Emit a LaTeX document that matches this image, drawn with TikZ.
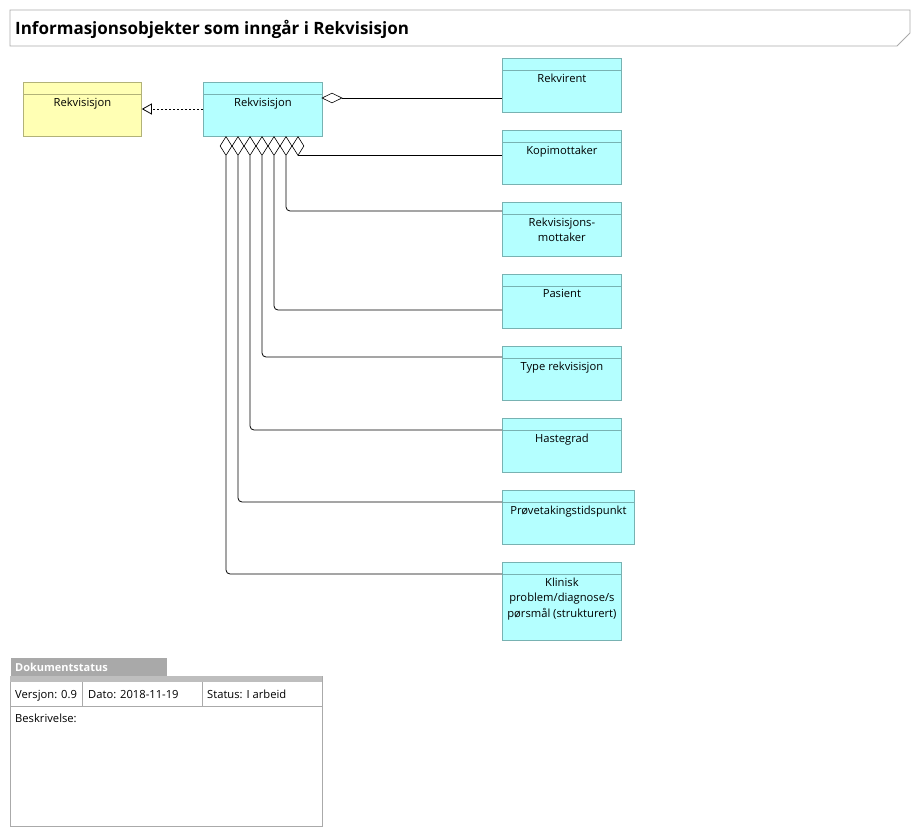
\documentclass[tikz,border=0pt]{standalone}
\usepackage{fontspec}
\setmainfont{Open Sans}
\usetikzlibrary{shapes.geometric,arrows.meta}
\definecolor{cyanfill}{RGB}{180,255,255}
\definecolor{cyanline}{RGB}{120,178,178}
\definecolor{yelfill}{RGB}{255,255,180}
\definecolor{yelline}{RGB}{178,178,120}
\definecolor{framegray}{RGB}{170,170,170}
\definecolor{tabgray}{RGB}{169,169,169}
\definecolor{bargray}{RGB}{190,190,190}
\tikzset{
  clsbox/.style={draw=cyanline, fill=cyanfill, line width=0.8pt, inner sep=0pt, anchor=north west},
  yelbox/.style={draw=yelline, fill=yelfill, line width=0.8pt, inner sep=0pt, anchor=north west},
  clsboxline/.style={draw=cyanline, line width=0.8pt},
  yelboxline/.style={draw=yelline, line width=0.8pt},
  clstext/.style={font=\fontsize{11.2}{15.5}\selectfont, align=center, inner sep=0pt, anchor=north},
  agg/.style={draw=black, fill=white, shape=diamond, inner sep=0pt, line width=0.6pt},
  conn/.style={draw=black, line width=0.8pt, rounded corners=4pt},
  frame/.style={draw=framegray, line width=0.8pt},
  celltext/.style={font=\fontsize{11.2}{14}\selectfont, inner sep=0pt, anchor=base west},
}
\newcommand{\umlclass}[7]{%
  \node[#1, minimum width=#5pt, minimum height=#6pt] (#2) at (#3,#4) {};
  \draw[#1line] ([yshift=-12pt]#2.north west) -- ([yshift=-12pt]#2.north east);
  \node[clstext] (#2-t) at ([yshift=-15.5pt]#2.north) {#7};
}
\begin{document}
\begin{tikzpicture}[x=1pt,y=-1pt]
\useasboundingbox (0,0) rectangle (921,837);
% title
\draw[frame] (10,10) -- (910,10) -- (910,33) -- (897,46) -- (10,46) -- cycle;
\node[font=\fontsize{17}{20}\selectfont\bfseries, anchor=west, inner sep=0pt] (title) at (15,29) {Informasjonsobjekter som inngår i Rekvisisjon};

% classes
\umlclass{yelbox}{base}{23}{82}{118}{54}{Rekvisisjon}
\umlclass{clsbox}{rekv}{203}{82}{119}{54}{Rekvisisjon}
\umlclass{clsbox}{rekvirent}{502}{58}{119}{54}{Rekvirent}
\umlclass{clsbox}{kopi}{502}{130}{119}{54}{Kopimottaker}
\umlclass{clsbox}{rmot}{502}{202}{119}{54}{Rekvisisjons-\\mottaker}
\umlclass{clsbox}{pas}{502}{274}{119}{54}{Pasient}
\umlclass{clsbox}{type}{502}{346}{119}{54}{Type rekvisisjon}
\umlclass{clsbox}{haste}{502}{418}{119}{54}{Hastegrad}
\umlclass{clsbox}{prove}{502}{490}{132}{54}{Prøvetakingstidspunkt}
\umlclass{clsbox}{klin}{502}{562}{119}{78}{Klinisk\\problem/diagnose/s\\pørsmål (strukturert)}

% realization
\draw[line width=0.8pt, dash pattern=on 2pt off 2pt, -{Triangle[open, length=10pt, width=11pt, line width=0.8pt, fill=white]}] (rekv.west |- 0,109) -- (base.east |- 0,109);

% aggregation diamonds
\node[agg, minimum width=20pt, minimum height=10pt] (dr) at (332,98) {};
\foreach \i/\x in {1/226,2/238,3/250,4/262,5/274,6/286,7/298}{
  \node[agg, minimum width=12pt, minimum height=19pt] (d\i) at (\x,146) {};
}
\draw[conn] (dr.east) -- (rekvirent.west |- dr.east);
\draw[conn] (d7.south) -- (kopi.west |- d7.south);
\draw[conn] (d6.south) |- ([yshift=-9pt]rmot.north west);
\draw[conn] (d5.south) |- ([yshift=-36pt]pas.north west);
\draw[conn] (d4.south) |- ([yshift=-11pt]type.north west);
\draw[conn] (d3.south) |- ([yshift=-12pt]haste.north west);
\draw[conn] (d2.south) |- ([yshift=-12pt]prove.north west);
\draw[conn] (d1.south) |- ([yshift=-12pt]klin.north west);

% document status
\node[fill=tabgray, minimum width=156pt, minimum height=18pt, anchor=north west, inner sep=0pt] (tab) at (11,658) {};
\node[font=\fontsize{11}{13}\selectfont\bfseries, text=white, anchor=west, inner sep=0pt] (tabt) at (15,667.5) {Dokumentstatus};
\node[frame, minimum width=312pt, minimum height=150pt, anchor=north west, inner sep=0pt] (status) at (10,676) {};
\fill[bargray] (10,676) rectangle (322,682);
\draw[frame] (10,706) -- (322,706);
\draw[frame] (82,682) -- (82,706);
\draw[frame] (202,682) -- (202,706);
\node[celltext] (ver) at (15,698) {Versjon: 0.9};
\node[celltext] (dato) at (88,698) {Dato: 2018-11-19};
\node[celltext] (stat) at (207,698) {Status: I arbeid};
\node[celltext] (besk) at (15,722) {Beskrivelse:};
\end{tikzpicture}
\end{document}
